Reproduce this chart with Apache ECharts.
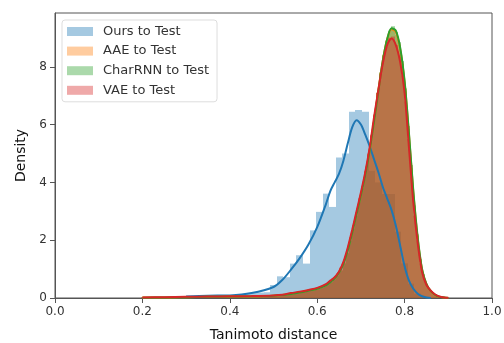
<!DOCTYPE html>
<html>
<head>
<meta charset="utf-8">
<script src="https://cdn.jsdelivr.net/npm/echarts@6/dist/echarts.min.js"></script>
<style>
  html, body { margin: 0; padding: 0; background: #fff; }
  #chart { width: 504px; height: 343px; }
</style>
</head>
<body>
<div id="chart"></div>
<script>
const seriesNames = ['Ours to Test', 'AAE to Test', 'CharRNN to Test', 'VAE to Test']
const xTicks = [0, 0.2, 0.4, 0.6, 0.8, 1.0]
const yTicks = [0, 2, 4, 6, 8]

// histogram bins: first left edge, bin width, densities
const oursBinStart = 0.2526
const oursBinWidth = 0.015
const oursHist = [0.01, 0.02, 0.03, 0.04, 0.05, 0.06, 0.07, 0.08, 0.07, 0.08,
  0.09, 0.12, 0.14, 0.17, 0.19, 0.2, 0.45, 0.75, 0.72, 1.19,
  1.48, 1.19, 2.34, 2.98, 3.61, 3.15, 4.86, 5.0, 6.44, 6.5,
  6.44, 4.4, 4.0, 3.6, 3.6, 2.3, 1.2, 0.5, 0.15, 0.04]

// the three baselines share finer bins
const otherBinStart = 0.196
const otherBinWidth = 0.007
const aaeHist = [0.02, 0.02, 0.02, 0.02, 0.03, 0.03, 0.03, 0.03, 0.03, 0.03,
  0.03, 0.04, 0.03, 0.04, 0.04, 0.04, 0.04, 0.04, 0.05, 0.04,
  0.05, 0.05, 0.05, 0.05, 0.05, 0.05, 0.06, 0.05, 0.06, 0.06,
  0.06, 0.06, 0.06, 0.07, 0.06, 0.07, 0.07, 0.07, 0.08, 0.07,
  0.08, 0.08, 0.09, 0.09, 0.09, 0.1, 0.1, 0.11, 0.12, 0.14,
  0.16, 0.17, 0.19, 0.21, 0.23, 0.25, 0.28, 0.31, 0.34, 0.38,
  0.44, 0.5, 0.57, 0.68, 0.8, 0.98, 1.24, 1.58, 2.02, 2.45,
  2.9, 3.4, 3.82, 4.38, 4.98, 5.62, 6.32, 7.1, 7.8, 8.38,
  8.85, 9.2, 9.3, 9.1, 8.75, 8.1, 7.15, 5.85, 4.5, 3.1,
  2.15, 1.3, 0.8, 0.48, 0.3, 0.18, 0.1, 0.05, 0.03, 0.01, 0.0]
const charrnnHist = [0.01, 0.01, 0.02, 0.02, 0.02, 0.02, 0.02, 0.03, 0.03, 0.03,
  0.03, 0.03, 0.03, 0.03, 0.04, 0.04, 0.04, 0.04, 0.04, 0.04,
  0.04, 0.05, 0.04, 0.05, 0.05, 0.05, 0.05, 0.05, 0.06, 0.05,
  0.05, 0.06, 0.06, 0.06, 0.06, 0.06, 0.07, 0.07, 0.07, 0.07,
  0.07, 0.08, 0.08, 0.08, 0.09, 0.09, 0.1, 0.11, 0.12, 0.13,
  0.15, 0.17, 0.18, 0.2, 0.22, 0.24, 0.27, 0.3, 0.33, 0.37,
  0.42, 0.48, 0.55, 0.65, 0.78, 0.95, 1.2, 1.55, 1.98, 2.4,
  2.85, 3.35, 3.8, 4.35, 4.95, 5.6, 6.3, 7.1, 7.8, 8.4,
  8.9, 9.25, 9.4, 9.2, 8.85, 8.2, 7.25, 5.95, 4.6, 3.2,
  2.2, 1.35, 0.82, 0.5, 0.3, 0.18, 0.1, 0.05, 0.03, 0.01, 0.0]
const vaeHist = [0.02, 0.02, 0.02, 0.03, 0.03, 0.03, 0.03, 0.03, 0.03, 0.03,
  0.03, 0.04, 0.04, 0.04, 0.04, 0.04, 0.05, 0.04, 0.05, 0.05,
  0.05, 0.05, 0.05, 0.05, 0.06, 0.05, 0.06, 0.06, 0.06, 0.06,
  0.06, 0.07, 0.06, 0.07, 0.07, 0.07, 0.07, 0.08, 0.07, 0.08,
  0.08, 0.09, 0.09, 0.09, 0.1, 0.1, 0.11, 0.12, 0.13, 0.15,
  0.18, 0.2, 0.22, 0.24, 0.27, 0.29, 0.31, 0.34, 0.38, 0.42,
  0.47, 0.53, 0.6, 0.72, 0.85, 1.05, 1.32, 1.65, 2.1, 2.5,
  2.95, 3.45, 3.85, 4.4, 5.0, 5.65, 6.35, 7.1, 7.75, 8.3,
  8.7, 9.0, 9.05, 8.75, 8.35, 7.7, 6.8, 5.5, 4.2, 2.85,
  2.0, 1.2, 0.75, 0.45, 0.3, 0.18, 0.11, 0.06, 0.03, 0.02, 0.01]

// kde curves on a shared x grid
const kdeX = [0.20, 0.25, 0.30, 0.35, 0.40, 0.45, 0.50, 0.52, 0.54, 0.56,
  0.58, 0.60, 0.62, 0.63, 0.64, 0.65, 0.66, 0.67, 0.68, 0.69,
  0.70, 0.71, 0.72, 0.73, 0.74, 0.75, 0.76, 0.77, 0.78, 0.79,
  0.80, 0.81, 0.82, 0.83, 0.84, 0.85, 0.86, 0.87, 0.88, 0.89, 0.90]
const oursKde = [null, null, 0.05, 0.08, 0.09, 0.17, 0.38, 0.62, 0.98, 1.38,
  1.85, 2.45, 3.25, 3.7, 4.0, 4.3, 4.75, 5.35, 5.9, 6.15,
  6.0, 5.65, 5.25, 4.8, 4.35, 3.85, 3.45, 3.05, 2.5, 1.8,
  1.1, 0.6, 0.32, 0.15, 0.06, 0.02, 0.0, null, null, null, null]
const aaeKde = [0.02, 0.02, 0.03, 0.04, 0.05, 0.06, 0.08, 0.1, 0.15, 0.2,
  0.26, 0.33, 0.45, 0.57, 0.7, 0.9, 1.2, 1.68, 2.28, 2.92,
  3.58, 4.28, 5.12, 6.12, 7.2, 8.2, 8.95, 9.3, 9.2, 8.6,
  7.45, 5.65, 3.65, 2.05, 0.98, 0.47, 0.23, 0.1, 0.04, 0.02, 0.0]
const charrnnKde = [0.01, 0.02, 0.03, 0.04, 0.05, 0.06, 0.08, 0.1, 0.14, 0.19,
  0.25, 0.32, 0.44, 0.55, 0.68, 0.88, 1.18, 1.65, 2.25, 2.9,
  3.55, 4.25, 5.1, 6.1, 7.15, 8.2, 8.95, 9.33, 9.25, 8.65,
  7.5, 5.7, 3.7, 2.1, 1.0, 0.48, 0.24, 0.11, 0.04, 0.02, 0.0]
const vaeKde = [0.02, 0.03, 0.04, 0.05, 0.06, 0.07, 0.09, 0.11, 0.17, 0.22,
  0.28, 0.35, 0.48, 0.6, 0.72, 0.92, 1.25, 1.75, 2.35, 3.0,
  3.65, 4.35, 5.2, 6.25, 7.2, 8.1, 8.75, 8.98, 8.75, 8.15,
  7.1, 5.2, 3.3, 1.9, 0.9, 0.45, 0.25, 0.12, 0.05, 0.02, 0.01]

const colors = ['#1f77b4', '#ff7f0e', '#2ca02c', '#d62728']
const fills = ['rgba(31,119,180,0.4)', 'rgba(255,127,14,0.45)', 'rgba(44,160,44,0.45)', 'rgba(214,39,40,0.45)']
const legendFills = ['rgba(31,119,180,0.4)', 'rgba(255,127,14,0.4)', 'rgba(44,160,44,0.4)', 'rgba(214,39,40,0.4)']

function binsOf(start, width, heights) {
  return heights.map((h, i) => [start + i * width, start + (i + 1) * width, h])
}

function renderHist(params, api) {
  const p0 = api.coord([api.value(0), api.value(2)])
  const p1 = api.coord([api.value(1), 0])
  const x0 = Math.round(p0[0])
  const x1 = Math.round(p1[0])
  return {
    type: 'rect',
    shape: { x: x0, y: p0[1], width: x1 - x0, height: p1[1] - p0[1] },
    style: { fill: api.visual('color') }
  }
}

const hists = [
  binsOf(oursBinStart, oursBinWidth, oursHist),
  binsOf(otherBinStart, otherBinWidth, aaeHist),
  binsOf(otherBinStart, otherBinWidth, charrnnHist),
  binsOf(otherBinStart, otherBinWidth, vaeHist)
]
const kdes = [oursKde, aaeKde, charrnnKde, vaeKde]

const series = []
seriesNames.forEach((name, k) => {
  series.push({
    name: name,
    type: 'custom',
    renderItem: renderHist,
    itemStyle: { color: fills[k] },
    encode: { x: [0, 1], y: 2 },
    data: hists[k],
    silent: true
  })
  series.push({
    name: name + ' kde',
    type: 'line',
    data: kdeX.map((x, i) => [x, kdes[k][i]]),
    showSymbol: false,
    smooth: 0.3,
    lineStyle: { color: colors[k], width: 2 },
    itemStyle: { color: colors[k] },
    silent: true
  })
})

const chart = echarts.init(document.getElementById('chart'), null, { renderer: 'canvas' })

const axisText = { color: '#333', fontFamily: 'DejaVu Sans', fontSize: 12 }

chart.setOption({
  animation: false,
  grid: {
    left: 55, right: 12, top: 13, bottom: 45,
    outerBoundsMode: 'none',
    show: true, borderColor: '#555', borderWidth: 1
  },
  legend: {
    data: seriesNames.map((n, k) => ({ name: n, itemStyle: { color: legendFills[k] } })),
    orient: 'vertical',
    left: 62,
    top: 20,
    icon: 'rect',
    itemWidth: 26,
    itemHeight: 9,
    itemGap: 6.6,
    padding: [5, 8, 5, 5],
    borderColor: '#ddd',
    borderWidth: 1,
    borderRadius: 3,
    backgroundColor: 'rgba(255,255,255,0.8)',
    textStyle: { color: '#333', fontFamily: 'DejaVu Sans', fontSize: 13, padding: [0, 0, 0, 5] }
  },
  xAxis: {
    type: 'value',
    min: xTicks[0],
    max: xTicks[xTicks.length - 1],
    interval: 0.2,
    name: 'Tanimoto distance',
    nameLocation: 'middle',
    nameGap: 30,
    nameTextStyle: { color: '#111', fontFamily: 'DejaVu Sans', fontSize: 14 },
    axisLine: { lineStyle: { color: '#555' } },
    axisTick: { length: 5, lineStyle: { color: '#555' } },
    axisLabel: Object.assign({ margin: 8, formatter: v => v.toFixed(1) }, axisText),
    splitLine: { show: false }
  },
  yAxis: {
    type: 'value',
    min: yTicks[0],
    max: 9.86,
    interval: 2,
    name: 'Density',
    nameLocation: 'middle',
    nameGap: 26,
    nameTextStyle: { color: '#111', fontFamily: 'DejaVu Sans', fontSize: 14 },
    axisLine: { show: true, lineStyle: { color: '#555' } },
    axisTick: { show: true, length: 5, lineStyle: { color: '#555' } },
    axisLabel: Object.assign({ margin: 8, showMaxLabel: false }, axisText),
    splitLine: { show: false }
  },
  series: series
})
</script>
</body>
</html>
